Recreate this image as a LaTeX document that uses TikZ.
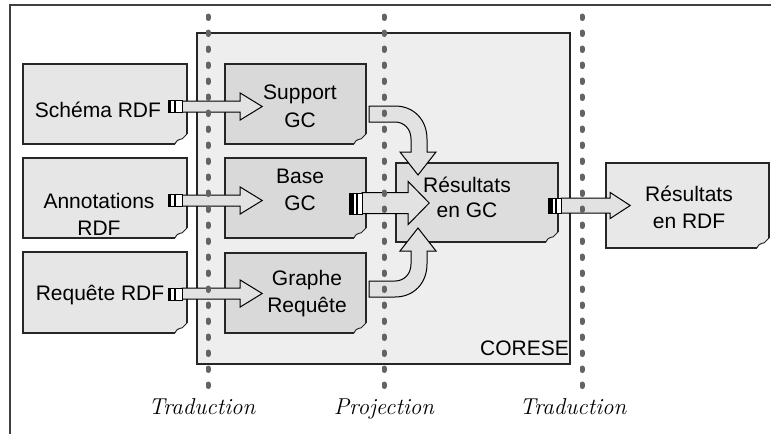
\documentclass[tikz,border=0pt]{standalone}
\usepackage{fontspec}
\setmainfont{Liberation Sans}
\newfontfamily\labfont{Latin Modern Roman}
\usetikzlibrary{calc}
\definecolor{leftfill}{HTML}{E6E6E6}
\definecolor{innerfill}{HTML}{D9D9D9}
\definecolor{resgcfill}{HTML}{DDDDDD}
\definecolor{resrdffill}{HTML}{E8E8E8}
\definecolor{coresefill}{HTML}{EEEEEE}
\definecolor{arrowfill}{HTML}{E2E2E2}
\definecolor{dotgray}{HTML}{646464}
\definecolor{framegray}{HTML}{404040}
\tikzset{
  pageline/.style={draw=black!85, line width=1.3pt, line join=miter},
  boxnode/.style={inner sep=0pt, draw=none},
  txt/.style={font=\fontsize{21}{25}\selectfont, align=center, inner sep=0pt, anchor=base},
  steplabel/.style={font=\labfont\itshape\fontsize{23}{25}\selectfont, inner sep=0pt, anchor=base},
  blockarrow/.style={draw=black, fill=arrowfill, line width=1pt, line join=miter},
  dotline/.style={draw=dotgray, line width=5pt, line cap=round, dash pattern=on 2.5pt off 13.5pt},
}
% page box: name, x1, y1, x2, y2, fill
\newcommand\pagebox[6]{%
  \fill[#6] (#2,#3) -- (#4,#3) -- (#4,#5-10) -- (#4-12,#5) -- (#2,#5) -- cycle;
  \draw[pageline] (#4,#5-10) -- (#4,#3) -- (#2,#3) -- (#2,#5) -- (#4-12,#5);
  \draw[pageline, fill=white, line width=1pt] (#4-12,#5) .. controls (#4-9,#5-7) and (#4-5,#5-3) .. (#4-3,#5-7) .. controls (#4-2,#5-9) .. (#4,#5-10);
  \node[boxnode, minimum width={#4-#2}, minimum height={#5-#3}] (#1) at ({(#2+#4)/2},{(#3+#5)/2}) {};
}
% small port: x1,y1,x2,y2
\newcommand\smallport[4]{%
  \draw[fill=white, line width=1pt] (#1,#2) rectangle (#3,#4);
  \fill[black] (#1,#2) rectangle (#1+3,#4);
  \draw[line width=1.2pt] (#1+7,#2) -- (#1+7,#4);
}
\newcommand\bigport[4]{%
  \draw[fill=white, line width=1pt] (#1,#2) rectangle (#3,#4);
  \fill[black] (#1,#2) rectangle (#1+5,#4);
  \draw[line width=1.2pt] (#1+8,#2) -- (#1+8,#4);
}
% straight block arrow: start coord, shaft length, head length, shaft half, head half
\newcommand\blockarr[5]{%
  \draw[blockarrow] (#1) ++(0,-#4) -- ++(#2,0) -- ++(0,#4-#5) -- ++(#3,#5) -- ++(-#3,#5) -- ++(0,#4-#5) -- ++(-#2,0) -- cycle;
}
\begin{document}
\begin{tikzpicture}[x=1pt,y=-1pt]
\useasboundingbox (0,0) rectangle (771,434);
\fill[white] (0,0) rectangle (771,434);
% outer frame (open at right and bottom)
\draw[framegray, line width=2pt] (10,434) -- (10,5) -- (771,5);
% CORESE box
\draw[fill=coresefill, draw=black!85, line width=1.3pt] (197,33) rectangle (570,364);
\node[boxnode, minimum width=373pt, minimum height=331pt] (corese) at (383.5,198.5) {};
\node[txt, anchor=base east] (coreselbl) at (569,355) {CORESE};
% left pages
\pagebox{schema}{23}{64}{187}{144}{leftfill}
\pagebox{annot}{23}{158}{187}{238}{leftfill}
\pagebox{requete}{23}{252}{187}{333}{leftfill}
% inner pages
\pagebox{support}{225}{64}{366}{144}{innerfill}
\pagebox{base}{225}{158}{366}{238}{innerfill}
\pagebox{graphe}{225}{253}{366}{333}{innerfill}
\pagebox{resgc}{396}{163}{558}{242}{resgcfill}
\pagebox{resrdf}{606}{163}{769}{248}{resrdffill}
% texts (base = baseline of last line)
\node[txt] (t1) at (98,117) {Schéma RDF};
\node[txt] (t2) at (99,235) {Annotations\\[2pt]RDF};
\node[txt] (t3) at (100,300) {Requête RDF};
\node[txt] (t4) at (300,127) {Support\\[3pt]GC};
\node[txt] (t5) at (300,210) {Base\\[2pt]GC};
\node[txt] (t6) at (307,312) {Graphe\\[2pt]Requête};
\node[txt] (t7) at (467,217) {Résultats\\[0pt]en GC};
\node[txt] (t8) at (689,228) {Résultats\\[2pt]en RDF};
% straight arrows
\coordinate (a1) at ($(schema.east)+(-5,2.5)$);
\coordinate (a2) at ($(annot.east)+(-5,2.5)$);
\coordinate (a3) at ($(requete.east)+(-5,1)$);
\coordinate (a4) at ($(base.east)+(-4,5)$);
\coordinate (a5) at ($(resgc.east)+(3,3)$);
\blockarr{a1}{58}{22}{5.5}{13.5}
\blockarr{a2}{58}{22}{5.5}{13.5}
\blockarr{a3}{58}{22}{5.5}{13.5}
\blockarr{a4}{46}{21}{10.5}{21.5}
\blockarr{a5}{49}{20}{7.5}{13}
% ports
\smallport{168}{100.5}{182}{112.5}
\smallport{168}{194.5}{182}{206.5}
\smallport{168}{288}{182}{300}
\bigport{349}{193}{362}{214}
\bigport{548}{198}{561}{213}
% curved arrows
\draw[blockarrow] (369,106) -- (395,106) .. controls (414,106) and (427,120) .. (427,139) -- (427,152) -- (436,152) -- (418,175) -- (400,152) -- (411,152) -- (411,139) .. controls (411,129) and (404,122) .. (395,122) -- (369,122) -- cycle;
\draw[blockarrow] (369,297) -- (395,297) .. controls (414,297) and (427,283) .. (427,264) -- (427,251) -- (436,251) -- (418,228) -- (400,251) -- (411,251) -- (411,264) .. controls (411,274) and (404,281) .. (395,281) -- (369,281) -- cycle;
% dotted separation lines
\coordinate (d1t) at (208,16); \coordinate (d1b) at (208,390);
\coordinate (d2t) at (384,16); \coordinate (d2b) at (384,390);
\coordinate (d3t) at (582,16); \coordinate (d3b) at (582,390);
\draw[dotline] (d1t) -- (d1b);
\draw[dotline] (d2t) -- (d2b);
\draw[dotline] (d3t) -- (d3b);
% step labels
\node[steplabel] (l1) at (202,414) {Traduction};
\node[steplabel] (l2) at (384,414) {Projection};
\node[steplabel] (l3) at (573,414) {Traduction};
\end{tikzpicture}
\end{document}
